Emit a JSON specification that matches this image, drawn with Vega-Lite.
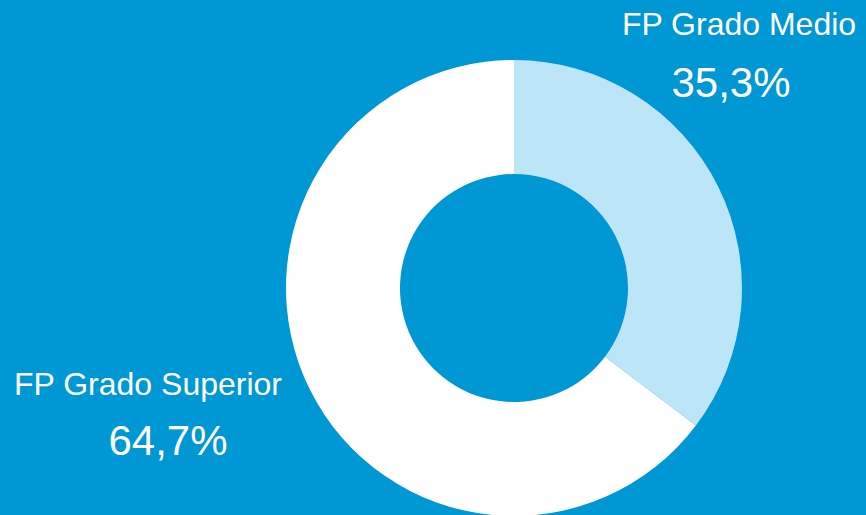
{
  "$schema": "https://vega.github.io/schema/vega-lite/v6.json",
  "autosize": {"type": "fit", "contains": "padding"},
  "width": 866,
  "height": 515,
  "padding": 0,
  "background": "#0097D5",
  "config": {"view": {"stroke": null}, "font": "Liberation Sans"},
  "data": {
    "values": [
      {"categoria": "FP Grado Medio", "valor": 35.3, "etiqueta": "35,3%", "orden": 1},
      {"categoria": "FP Grado Superior", "valor": 64.7, "etiqueta": "64,7%", "orden": 2}
    ]
  },
  "layer": [
    {
      "mark": {"type": "arc", "x": 514, "y": 288, "radius": 228, "innerRadius": 114, "stroke": null},
      "encoding": {
        "theta": {"field": "valor", "type": "quantitative", "stack": true},
        "order": {"field": "orden", "type": "quantitative"},
        "color": {
          "field": "categoria",
          "type": "nominal",
          "scale": {"domain": ["FP Grado Medio", "FP Grado Superior"], "range": ["#BCE5F8", "#FFFFFF"]},
          "legend": null
        }
      }
    },
    {
      "transform": [{"filter": "datum.categoria == 'FP Grado Medio'"}],
      "mark": {"type": "text", "x": 739, "y": 35, "align": "center", "baseline": "alphabetic", "fontSize": 32, "color": "#FFFFFF"},
      "encoding": {"text": {"field": "categoria"}}
    },
    {
      "transform": [{"filter": "datum.categoria == 'FP Grado Medio'"}],
      "mark": {"type": "text", "x": 731, "y": 97, "align": "center", "baseline": "alphabetic", "fontSize": 42, "color": "#FFFFFF"},
      "encoding": {"text": {"field": "etiqueta"}}
    },
    {
      "transform": [{"filter": "datum.categoria == 'FP Grado Superior'"}],
      "mark": {"type": "text", "x": 148, "y": 395, "align": "center", "baseline": "alphabetic", "fontSize": 32, "color": "#FFFFFF"},
      "encoding": {"text": {"field": "categoria"}}
    },
    {
      "transform": [{"filter": "datum.categoria == 'FP Grado Superior'"}],
      "mark": {"type": "text", "x": 168, "y": 455, "align": "center", "baseline": "alphabetic", "fontSize": 42, "color": "#FFFFFF"},
      "encoding": {"text": {"field": "etiqueta"}}
    }
  ]
}
